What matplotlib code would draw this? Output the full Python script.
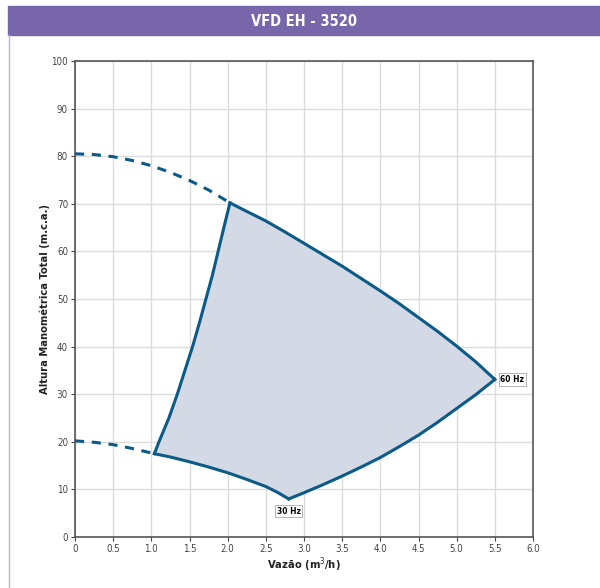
import matplotlib.pyplot as plt
import numpy as np

plt.rcParams['font.family'] = ['DejaVu Sans']
plt.rcParams['font.stretch'] = 'condensed'

# curva 60 Hz (parte tracejada e parte util)
q60_tr = [0.0, 0.25, 0.5, 0.75, 1.0, 1.25, 1.5, 1.75, 2.03]
h60_tr = [80.5, 80.35, 79.9, 79.1, 78.0, 76.6, 74.9, 72.9, 70.2]
q60 = [2.03, 2.25, 2.5, 2.75, 3.0, 3.25, 3.5, 3.75, 4.0, 4.25, 4.5, 4.75, 5.0, 5.25, 5.5]
h60 = [70.2, 68.4, 66.4, 64.1, 61.7, 59.3, 56.9, 54.3, 51.7, 49.0, 46.1, 43.2, 40.1, 36.8, 33.1]

# curva 30 Hz
q30_tr = [0.0, 0.25, 0.5, 0.75, 1.04]
h30_tr = [20.2, 19.9, 19.4, 18.6, 17.5]
q30 = [1.04, 1.25, 1.5, 1.75, 2.0, 2.25, 2.5, 2.65, 2.8]
h30 = [17.5, 16.8, 15.8, 14.7, 13.5, 12.1, 10.6, 9.4, 8.0]

# limites esquerdo e direito da area de operacao
q_esq = [1.04, 1.10, 1.23, 1.34, 1.44, 1.54, 1.63, 1.715, 1.80, 1.875, 1.95, 2.03]
h_esq = [17.5, 20.0, 25.0, 30.0, 35.0, 40.0, 45.0, 50.0, 55.0, 60.0, 65.0, 70.2]
q_dir = [2.8, 3.0, 3.25, 3.5, 3.75, 4.0, 4.25, 4.5, 4.75, 5.0, 5.25, 5.5]
h_dir = [8.0, 9.3, 11.0, 12.8, 14.7, 16.7, 19.0, 21.4, 24.1, 27.0, 29.9, 33.1]

xticks = np.arange(0, 6.01, 0.5)
xlabels = ['0'] + ['%.1f' % v for v in xticks[1:]]
yticks = np.arange(0, 101, 10)

azul = '#0b5a87'
fig = plt.figure(figsize=(6, 5.88), dpi=100)

# faixa roxa do titulo
fig.patches.append(plt.Rectangle((8/600, 1-35/588), 1, 29/588, transform=fig.transFigure,
                                 color='#7766aa', zorder=0))
fig.text(0.5 + 4/600, 1-21/588, 'VFD EH - 3520', color='white', ha='center', va='center',
         fontsize=10.5, fontweight='bold')
fig.lines.append(plt.Line2D([8.5/600, 8.5/600], [0, 1-35/588], transform=fig.transFigure,
                            color='#b9b3d6', lw=1))

ax = fig.add_axes([75/600, 51/588, 458/600, 476/588])

# poligono da area
px = q_esq + q60[1:] + q_dir[::-1][1:] + q30[::-1][1:-1]
py = h_esq + h60[1:] + h_dir[::-1][1:] + h30[::-1][1:-1]
ax.fill(px, py, color='#d3d9e5', zorder=1)

ax.plot(q60_tr, h60_tr, '--', color=azul, lw=2.2, dashes=(3, 2.5), zorder=3)
ax.plot(q30_tr, h30_tr, '--', color=azul, lw=2.2, dashes=(3, 2.5), zorder=3)
for qq, hh in [(q60, h60), (q30, h30), (q_esq, h_esq), (q_dir, h_dir)]:
    ax.plot(qq, hh, color=azul, lw=2.2, zorder=3, solid_joinstyle='round')

caixa = dict(boxstyle='square,pad=0.2', fc='white', ec='#aaaaaa', lw=0.6)
ax.text(q60[-1] + 0.07, h60[-1], '60 Hz', fontsize=6, fontweight='bold', ha='left',
        va='center', bbox=caixa, zorder=4)
ax.text(q30[-1], h30[-1] - 1.6, '30 Hz', fontsize=6, fontweight='bold', ha='center',
        va='top', bbox=caixa, zorder=4)

ax.set_xlim(0, 6)
ax.set_ylim(0, 100)
ax.set_xticks(xticks)
ax.set_xticklabels(xlabels)
ax.set_yticks(yticks)
ax.grid(True, color='#dcdcdc', lw=1)
ax.set_axisbelow(True)
ax.tick_params(labelsize=7, colors='#444444', length=3, width=0.8, pad=2)
for s in ax.spines.values():
    s.set_color('#555555')
    s.set_linewidth(1.2)

ax.set_xlabel('Vazão (m$^3$/h)', fontsize=8, fontweight='bold', color='#222222', labelpad=1)
ax.set_ylabel('Altura Manométrica Total (m.c.a.)', fontsize=8, fontweight='bold',
              color='#222222', labelpad=1)

fig.savefig('out.png', dpi=100)
